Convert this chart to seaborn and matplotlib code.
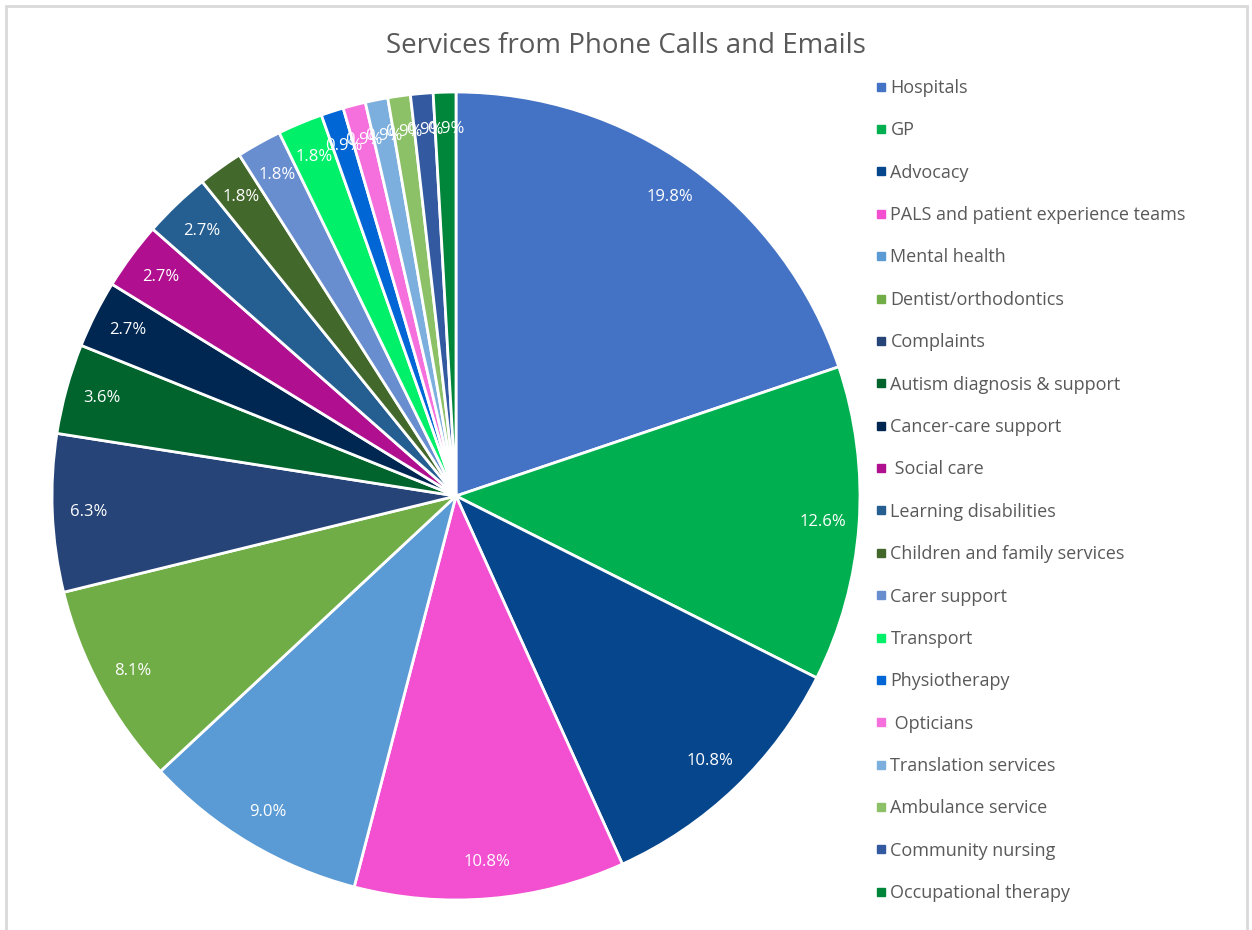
import matplotlib
matplotlib.use("Agg")
import matplotlib.pyplot as plt
import matplotlib.patches as mpatches
from matplotlib.lines import Line2D
import seaborn as sns

sns.set_theme(style="white")
plt.rcParams["font.family"] = ["Open Sans", "DejaVu Sans"]

# Enquiries by service (number of contacts)
services = [
    "Hospitals", "GP", "Advocacy", "PALS and patient experience teams",
    "Mental health", "Dentist/orthodontics", "Complaints",
    "Autism diagnosis & support", "Cancer-care support", " Social care",
    "Learning disabilities", "Children and family services", "Carer support",
    "Transport", "Physiotherapy", " Opticians", "Translation services",
    "Ambulance service", "Community nursing", "Occupational therapy",
]
counts = [22, 14, 12, 12, 10, 9, 7, 4, 3, 3, 3, 2, 2, 2, 1, 1, 1, 1, 1, 1]
colors = [
    "#4472C4", "#00B050", "#06468D", "#F24FD1", "#5B9BD5", "#70AD47",
    "#264478", "#00642C", "#002652", "#B0108F", "#255E91", "#43682B",
    "#698ED0", "#00F06A", "#0066D6", "#F570DD", "#7CAFDD", "#8CC168",
    "#335AA1", "#00863A",
]

fig = plt.figure(figsize=(12.52, 9.30), dpi=100)
fig.patch.set_facecolor("white")

ax = fig.add_axes([50 / 1252, 28 / 930, 812 / 1252, 812 / 930])
wedges, _, autotexts = ax.pie(
    counts,
    colors=colors,
    startangle=90,
    counterclock=False,
    autopct="%.1f%%",
    pctdistance=0.91,
    wedgeprops=dict(edgecolor="white", linewidth=2),
    textprops=dict(color="white", fontsize=12),
)
ax.set_aspect("equal")
ax.set_xlim(-1.005, 1.005)
ax.set_ylim(-1.005, 1.005)
ax.axis("off")

fig.text(0.5, 1 - 46 / 930, "Services from Phone Calls and Emails",
         ha="center", va="center", fontsize=20, color="#595959")

handles = [Line2D([0], [0], marker="s", linestyle="none", markersize=6,
                  markerfacecolor=c, markeredgecolor=c) for c in colors]
fig.legend(handles, services, loc="upper left",
           bbox_to_anchor=(876 / 1252, 1 - 79 / 930),
           frameon=False, fontsize=13, labelcolor="#595959",
           handlelength=0.5, handletextpad=0.3, labelspacing=1.35,
           borderaxespad=0, borderpad=0)

# light frame around the chart area
frame = mpatches.Rectangle((6 / 1252, -0.02), 1241 / 1252, 1 - 6 / 930 + 0.02,
                           transform=fig.transFigure, fill=False,
                           edgecolor="#D9D9D9", linewidth=2)
fig.patches.append(frame)

fig.savefig("out.png", dpi=100, facecolor="white")
